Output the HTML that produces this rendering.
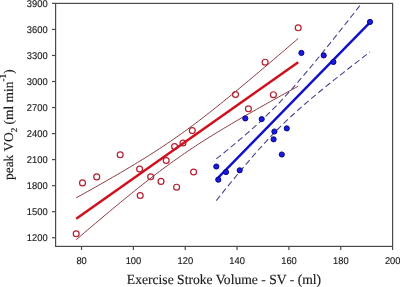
<!DOCTYPE html>
<html><head><meta charset="utf-8"><style>
html,body{margin:0;padding:0;background:#fff;overflow:hidden;width:400px;height:287px;}
svg{display:block;}
text{text-rendering:geometricPrecision;}
.tk{font-family:"Liberation Sans",Arial,sans-serif;font-size:9.8px;fill:#151515;stroke:#151515;stroke-width:0.12px;}
.ti{font-family:"Liberation Serif","Times New Roman",serif;font-size:13.5px;fill:#1a1a1a;stroke:#1a1a1a;stroke-width:0.15px;}
.ti2{font-family:"Liberation Serif","Times New Roman",serif;font-size:13.4px;fill:#1a1a1a;stroke:#1a1a1a;stroke-width:0.15px;}
.sub{font-size:9px;}
.sup{font-size:9.5px;}
</style></head><body>
<svg width="400" height="287" viewBox="0 0 400 287">
<rect width="400" height="287" fill="#fff"/>
<rect x="55.6" y="3.4" width="337.00" height="243.00" fill="none" stroke="#4a4a4a" stroke-width="1.2"/>
<line x1="52.00" y1="237.72" x2="55.60" y2="237.72" stroke="#4a4a4a" stroke-width="1.2"/>
<text transform="translate(47.6 241.22) scale(0.955 1)" text-anchor="end" class="tk">1200</text>
<line x1="52.00" y1="211.69" x2="55.60" y2="211.69" stroke="#4a4a4a" stroke-width="1.2"/>
<text transform="translate(47.6 215.19) scale(0.955 1)" text-anchor="end" class="tk">1500</text>
<line x1="52.00" y1="185.65" x2="55.60" y2="185.65" stroke="#4a4a4a" stroke-width="1.2"/>
<text transform="translate(47.6 189.15) scale(0.955 1)" text-anchor="end" class="tk">1800</text>
<line x1="52.00" y1="159.61" x2="55.60" y2="159.61" stroke="#4a4a4a" stroke-width="1.2"/>
<text transform="translate(47.6 163.11) scale(0.955 1)" text-anchor="end" class="tk">2100</text>
<line x1="52.00" y1="133.58" x2="55.60" y2="133.58" stroke="#4a4a4a" stroke-width="1.2"/>
<text transform="translate(47.6 137.08) scale(0.955 1)" text-anchor="end" class="tk">2400</text>
<line x1="52.00" y1="107.54" x2="55.60" y2="107.54" stroke="#4a4a4a" stroke-width="1.2"/>
<text transform="translate(47.6 111.04) scale(0.955 1)" text-anchor="end" class="tk">2700</text>
<line x1="52.00" y1="81.51" x2="55.60" y2="81.51" stroke="#4a4a4a" stroke-width="1.2"/>
<text transform="translate(47.6 85.01) scale(0.955 1)" text-anchor="end" class="tk">3000</text>
<line x1="52.00" y1="55.47" x2="55.60" y2="55.47" stroke="#4a4a4a" stroke-width="1.2"/>
<text transform="translate(47.6 58.97) scale(0.955 1)" text-anchor="end" class="tk">3300</text>
<line x1="52.00" y1="29.44" x2="55.60" y2="29.44" stroke="#4a4a4a" stroke-width="1.2"/>
<text transform="translate(47.6 32.94) scale(0.955 1)" text-anchor="end" class="tk">3600</text>
<line x1="52.00" y1="3.40" x2="55.60" y2="3.40" stroke="#4a4a4a" stroke-width="1.2"/>
<text transform="translate(47.6 6.90) scale(0.955 1)" text-anchor="end" class="tk">3900</text>
<line x1="81.52" y1="246.40" x2="81.52" y2="250.00" stroke="#4a4a4a" stroke-width="1.2"/>
<text transform="translate(81.62 264.20) scale(0.955 1)" text-anchor="middle" class="tk">80</text>
<line x1="133.37" y1="246.40" x2="133.37" y2="250.00" stroke="#4a4a4a" stroke-width="1.2"/>
<text transform="translate(133.47 264.20) scale(0.955 1)" text-anchor="middle" class="tk">100</text>
<line x1="185.22" y1="246.40" x2="185.22" y2="250.00" stroke="#4a4a4a" stroke-width="1.2"/>
<text transform="translate(185.32 264.20) scale(0.955 1)" text-anchor="middle" class="tk">120</text>
<line x1="237.06" y1="246.40" x2="237.06" y2="250.00" stroke="#4a4a4a" stroke-width="1.2"/>
<text transform="translate(237.16 264.20) scale(0.955 1)" text-anchor="middle" class="tk">140</text>
<line x1="288.91" y1="246.40" x2="288.91" y2="250.00" stroke="#4a4a4a" stroke-width="1.2"/>
<text transform="translate(289.01 264.20) scale(0.955 1)" text-anchor="middle" class="tk">160</text>
<line x1="340.75" y1="246.40" x2="340.75" y2="250.00" stroke="#4a4a4a" stroke-width="1.2"/>
<text transform="translate(340.85 264.20) scale(0.955 1)" text-anchor="middle" class="tk">180</text>
<line x1="392.60" y1="246.40" x2="392.60" y2="250.00" stroke="#4a4a4a" stroke-width="1.2"/>
<text transform="translate(392.70 264.20) scale(0.955 1)" text-anchor="middle" class="tk">200</text>
<polyline points="76.20,197.83 78.98,196.29 81.75,194.75 84.53,193.20 87.30,191.65 90.08,190.09 92.85,188.53 95.62,186.97 98.40,185.40 101.17,183.83 103.95,182.25 106.72,180.66 109.50,179.07 112.28,177.47 115.05,175.87 117.83,174.26 120.60,172.63 123.38,171.00 126.15,169.37 128.93,167.72 131.70,166.06 134.47,164.38 137.25,162.70 140.03,161.01 142.80,159.30 145.57,157.57 148.35,155.83 151.12,154.08 153.90,152.30 156.68,150.51 159.45,148.70 162.22,146.88 165.00,145.03 167.78,143.16 170.55,141.27 173.32,139.36 176.10,137.42 178.88,135.47 181.65,133.49 184.43,131.50 187.20,129.48 189.97,127.44 192.75,125.38 195.53,123.30 198.30,121.20 201.07,119.08 203.85,116.94 206.62,114.79 209.40,112.62 212.18,110.43 214.95,108.23 217.73,106.02 220.50,103.79 223.27,101.55 226.05,99.30 228.82,97.04 231.60,94.77 234.38,92.49 237.15,90.20 239.93,87.91 242.70,85.60 245.48,83.29 248.25,80.97 251.02,78.65 253.80,76.32 256.57,73.98 259.35,71.64 262.12,69.29 264.90,66.94 267.68,64.59 270.45,62.23 273.23,59.87 276.00,57.50 278.77,55.13 281.55,52.76 284.32,50.38 287.10,48.00 289.88,45.62 292.65,43.24 295.43,40.85 298.20,38.47" fill="none" stroke="#8c3a40" stroke-width="1.0"/>
<polyline points="76.20,239.66 78.98,237.29 81.75,234.92 84.53,232.56 87.30,230.20 90.08,227.84 92.85,225.49 95.62,223.15 98.40,220.81 101.17,218.47 103.95,216.14 106.72,213.81 109.50,211.49 112.28,209.18 115.05,206.88 117.83,204.58 120.60,202.29 123.38,200.01 126.15,197.74 128.93,195.48 131.70,193.23 134.47,190.99 137.25,188.76 140.03,186.55 142.80,184.34 145.57,182.16 148.35,179.99 151.12,177.83 153.90,175.70 156.68,173.58 159.45,171.47 162.22,169.39 165.00,167.33 167.78,165.29 170.55,163.27 173.32,161.27 176.10,159.29 178.88,157.33 181.65,155.40 184.43,153.49 187.20,151.60 189.97,149.73 192.75,147.88 195.53,146.05 198.30,144.24 201.07,142.45 203.85,140.67 206.62,138.91 209.40,137.17 212.18,135.45 214.95,133.74 217.73,132.04 220.50,130.36 223.27,128.69 226.05,127.02 228.82,125.37 231.60,123.74 234.38,122.10 237.15,120.48 239.93,118.87 242.70,117.26 245.48,115.66 248.25,114.07 251.02,112.49 253.80,110.91 256.57,109.33 259.35,107.76 262.12,106.20 264.90,104.64 267.68,103.08 270.45,101.53 273.23,99.98 276.00,98.44 278.77,96.90 281.55,95.36 284.32,93.83 287.10,92.29 289.88,90.77 292.65,89.24 295.43,87.71 298.20,86.19" fill="none" stroke="#8c3a40" stroke-width="1.0"/>
<line x1="76.2" y1="218.7452416098918" x2="298.2" y2="62.32875884043702" stroke="#d0101c" stroke-width="2.5"/>
<circle cx="76.2" cy="233.8" r="2.95" fill="none" stroke="#b41e30" stroke-width="1.2"/>
<circle cx="82.5" cy="182.9" r="2.95" fill="none" stroke="#b41e30" stroke-width="1.2"/>
<circle cx="96.7" cy="176.9" r="2.95" fill="none" stroke="#b41e30" stroke-width="1.2"/>
<circle cx="120.2" cy="154.8" r="2.95" fill="none" stroke="#b41e30" stroke-width="1.2"/>
<circle cx="139.6" cy="169.0" r="2.95" fill="none" stroke="#b41e30" stroke-width="1.2"/>
<circle cx="140.2" cy="195.5" r="2.95" fill="none" stroke="#b41e30" stroke-width="1.2"/>
<circle cx="150.7" cy="176.8" r="2.95" fill="none" stroke="#b41e30" stroke-width="1.2"/>
<circle cx="161.0" cy="181.4" r="2.95" fill="none" stroke="#b41e30" stroke-width="1.2"/>
<circle cx="166.2" cy="160.5" r="2.95" fill="none" stroke="#b41e30" stroke-width="1.2"/>
<circle cx="176.6" cy="187.2" r="2.95" fill="none" stroke="#b41e30" stroke-width="1.2"/>
<circle cx="174.6" cy="146.6" r="2.95" fill="none" stroke="#b41e30" stroke-width="1.2"/>
<circle cx="183.0" cy="143.0" r="2.95" fill="none" stroke="#b41e30" stroke-width="1.2"/>
<circle cx="192.3" cy="130.6" r="2.95" fill="none" stroke="#b41e30" stroke-width="1.2"/>
<circle cx="235.5" cy="94.5" r="2.95" fill="none" stroke="#b41e30" stroke-width="1.2"/>
<circle cx="248.4" cy="108.8" r="2.95" fill="none" stroke="#b41e30" stroke-width="1.2"/>
<circle cx="265.1" cy="62.2" r="2.95" fill="none" stroke="#b41e30" stroke-width="1.2"/>
<circle cx="273.4" cy="94.7" r="2.95" fill="none" stroke="#b41e30" stroke-width="1.2"/>
<circle cx="298.2" cy="27.8" r="2.95" fill="none" stroke="#b41e30" stroke-width="1.2"/>
<circle cx="193.6" cy="172.0" r="2.95" fill="none" stroke="#b41e30" stroke-width="1.2"/>
<polyline points="216.30,158.88 218.22,157.35 220.14,155.81 222.06,154.26 223.99,152.71 225.91,151.15 227.83,149.59 229.75,148.02 231.67,146.44 233.59,144.85 235.51,143.25 237.43,141.64 239.36,140.03 241.28,138.40 243.20,136.76 245.12,135.10 247.04,133.44 248.96,131.76 250.88,130.06 252.80,128.35 254.73,126.62 256.65,124.87 258.57,123.11 260.49,121.32 262.41,119.52 264.33,117.69 266.25,115.84 268.17,113.97 270.10,112.08 272.02,110.16 273.94,108.22 275.86,106.26 277.78,104.27 279.70,102.26 281.62,100.23 283.54,98.17 285.47,96.09 287.39,93.98 289.31,91.86 291.23,89.72 293.15,87.55 295.07,85.37 296.99,83.17 298.91,80.95 300.84,78.72 302.76,76.47 304.68,74.20 306.60,71.93 308.52,69.64 310.44,67.33 312.36,65.02 314.28,62.70 316.21,60.36 318.13,58.02 320.05,55.67 321.97,53.31 323.89,50.94 325.81,48.56 327.73,46.18 329.65,43.79 331.57,41.40 333.50,39.00 335.42,36.59 337.34,34.18 339.26,31.77 341.18,29.35 343.10,26.93 345.02,24.50 346.94,22.07 348.87,19.64 350.79,17.20 352.71,14.76 354.63,12.32 356.55,9.88 358.47,7.43 360.39,4.98 361.24,3.90" fill="none" stroke="#45458a" stroke-width="1.1" stroke-dasharray="6 3.3"/>
<polyline points="216.30,200.54 218.22,198.14 220.14,195.74 222.06,193.35 223.99,190.97 225.91,188.59 227.83,186.22 229.75,183.86 231.67,181.51 233.59,179.16 235.51,176.82 237.43,174.50 239.36,172.18 241.28,169.87 243.20,167.58 245.12,165.30 247.04,163.03 248.96,160.78 250.88,158.54 252.80,156.32 254.73,154.11 256.65,151.92 258.57,149.75 260.49,147.60 262.41,145.47 264.33,143.37 266.25,141.28 268.17,139.21 270.10,137.17 272.02,135.16 273.94,133.16 275.86,131.19 277.78,129.24 279.70,127.32 281.62,125.42 283.54,123.54 285.47,121.69 287.39,119.86 289.31,118.05 291.23,116.26 293.15,114.49 295.07,112.73 296.99,111.00 298.91,109.28 300.84,107.58 302.76,105.90 304.68,104.23 306.60,102.57 308.52,100.93 310.44,99.29 312.36,97.67 314.28,96.06 316.21,94.46 318.13,92.87 320.05,91.29 321.97,89.71 323.89,88.15 325.81,86.59 327.73,85.04 329.65,83.49 331.57,81.95 333.50,80.41 335.42,78.88 337.34,77.36 339.26,75.84 341.18,74.32 343.10,72.81 345.02,71.30 346.94,69.80 348.87,68.30 350.79,66.80 352.71,65.30 354.63,63.81 356.55,62.32 358.47,60.84 360.39,59.35 362.31,57.87 364.24,56.39 366.16,54.91 368.08,53.44 370.00,51.96" fill="none" stroke="#45458a" stroke-width="1.1" stroke-dasharray="6 3.3"/>
<line x1="216.3" y1="179.71048189477366" x2="370.0" y2="22.32803231800341" stroke="#1010c8" stroke-width="2.4"/>
<circle cx="216.3" cy="166.5" r="2.6" fill="#1a1ae0" stroke="#00007a" stroke-width="0.9"/>
<circle cx="226.0" cy="172.1" r="2.6" fill="#1a1ae0" stroke="#00007a" stroke-width="0.9"/>
<circle cx="239.7" cy="170.3" r="2.6" fill="#1a1ae0" stroke="#00007a" stroke-width="0.9"/>
<circle cx="218.3" cy="179.7" r="2.6" fill="#1a1ae0" stroke="#00007a" stroke-width="0.9"/>
<circle cx="245.3" cy="118.4" r="2.6" fill="#1a1ae0" stroke="#00007a" stroke-width="0.9"/>
<circle cx="261.7" cy="119.1" r="2.6" fill="#1a1ae0" stroke="#00007a" stroke-width="0.9"/>
<circle cx="274.4" cy="131.5" r="2.6" fill="#1a1ae0" stroke="#00007a" stroke-width="0.9"/>
<circle cx="286.8" cy="128.4" r="2.6" fill="#1a1ae0" stroke="#00007a" stroke-width="0.9"/>
<circle cx="273.6" cy="139.3" r="2.6" fill="#1a1ae0" stroke="#00007a" stroke-width="0.9"/>
<circle cx="281.8" cy="154.5" r="2.6" fill="#1a1ae0" stroke="#00007a" stroke-width="0.9"/>
<circle cx="301.4" cy="52.9" r="2.6" fill="#1a1ae0" stroke="#00007a" stroke-width="0.9"/>
<circle cx="323.7" cy="55.4" r="2.6" fill="#1a1ae0" stroke="#00007a" stroke-width="0.9"/>
<circle cx="333.4" cy="62.0" r="2.6" fill="#1a1ae0" stroke="#00007a" stroke-width="0.9"/>
<circle cx="370.0" cy="21.9" r="2.6" fill="#1a1ae0" stroke="#00007a" stroke-width="0.9"/>
<text x="224" y="284" text-anchor="middle" class="ti" transform="translate(224 284) scale(1.008 1.03) translate(-224 -284)">Exercise Stroke Volume - SV - (ml)</text>
<text transform="translate(12.8,124.6) rotate(-90)" text-anchor="middle" class="ti2">peak VO<tspan class="sub" dy="4.4">2</tspan><tspan dy="-4.4"> (ml min</tspan><tspan class="sup" dy="-7">-1</tspan><tspan dy="7">)</tspan></text>
</svg>
</body></html>
